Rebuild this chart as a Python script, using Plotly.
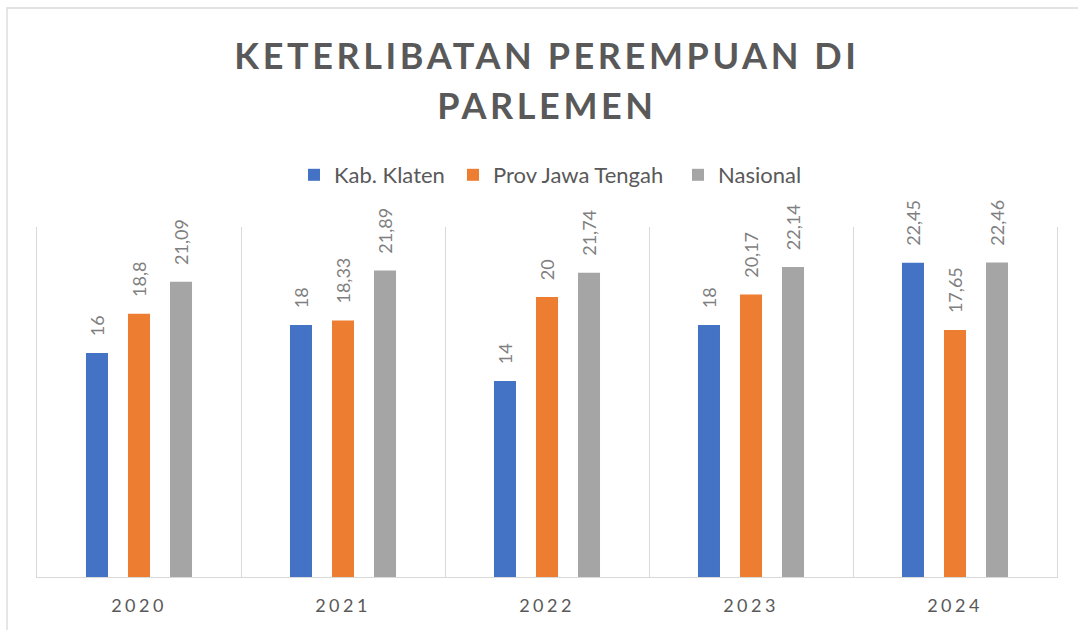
import plotly.graph_objects as go

years = ["2020", "2021", "2022", "2023", "2024"]
klaten = [16, 18, 14, 18, 22.45]
jateng = [18.8, 18.33, 20, 20.17, 17.65]
nasional = [21.09, 21.89, 21.74, 22.14, 22.46]

series = [
    ("Kab. Klaten", klaten, "#4472C4"),
    ("Prov Jawa Tengah", jateng, "#ED7D31"),
    ("Nasional", nasional, "#A5A5A5"),
]

def fmt(v):
    return ("%g" % v).replace(".", ",")

PAD = "\u00a0" * 3

W, H = 1078, 630
L, R, T, B = 37, 21, 227, 53
pw = W - L - R
ph = H - T - B

legend_names = ["legend", "legend2", "legend3"]
legend_sq_left = [308, 467, 692]

fig = go.Figure()
for (name, vals, col), lg in zip(series, legend_names):
    fig.add_trace(go.Bar(
        x=years, y=vals, name=name, legend=lg,
        marker=dict(color=col, line=dict(width=0)),
        text=[PAD + fmt(v) for v in vals],
        textposition="outside", textangle=-90, constraintext="none",
        textfont=dict(family="Lato, Open Sans, sans-serif", size=18, color="#7F7F7F"),
        cliponaxis=False,
    ))

legend_style = dict(
    orientation="h", yanchor="middle", xanchor="left",
    font=dict(family="Lato, Open Sans, sans-serif", size=22, color="#595959"),
    itemwidth=30, bgcolor="rgba(0,0,0,0)",
)
legends = {}
for lg, sx in zip(legend_names, legend_sq_left):
    legends[lg] = dict(legend_style, x=(sx - 14 - L) / pw, y=(H - 175 - B) / ph)

fig.update_layout(
    width=W, height=H,
    margin=dict(l=L, r=R, t=T, b=B),
    paper_bgcolor="white", plot_bgcolor="white",
    barmode="group", bargap=0.382, bargroupgap=0.476,
    title=dict(
        text="<b>KETERLIBATAN PEREMPUAN DI<br>PARLEMEN</b>",
        xref="paper", x=0.5, xanchor="center", yref="container", y=1 - 69 / H, yanchor="top",
        font=dict(family="Lato, Open Sans, sans-serif", size=36, color="#595959"),
    ),
    xaxis=dict(
        type="category", tickson="boundaries", showgrid=True, gridcolor="#D9D9D9", gridwidth=1.3,
        showline=True, linecolor="#D9D9D9", linewidth=1.3, ticks="",
        tickfont=dict(family="Lato, Open Sans, sans-serif", size=18, color="#595959"),
        ticklabelstandoff=12, zeroline=False,
    ),
    yaxis=dict(range=[0, 25], showticklabels=False, ticks="", showgrid=False, zeroline=False,
               showline=True, mirror=True, linecolor="#D9D9D9", linewidth=1.3),
    showlegend=True,
    shapes=[dict(
        type="rect", xref="paper", yref="paper",
        x0=(7 - L) / pw, x1=(1090 - L) / pw,
        y0=(H - 650 - B) / ph, y1=(H - 8 - B) / ph,
        line=dict(color="#D9D9D9", width=1.3), fillcolor="rgba(0,0,0,0)", layer="below",
    )],
    **legends,
)

post = """
document.body.style.margin='0';
document.querySelectorAll('.gtitle').forEach(function(e){e.style.letterSpacing='3.6px';});
document.querySelectorAll('.gtitle tspan.line').forEach(function(t,i){ if(i>0){ t.setAttribute('dy','1.39em'); } });
document.querySelectorAll('.xtick text').forEach(function(e){e.style.letterSpacing='3.5px';});
"""
fig.write_html("out.html", post_script=post, config={"displayModeBar": False})
